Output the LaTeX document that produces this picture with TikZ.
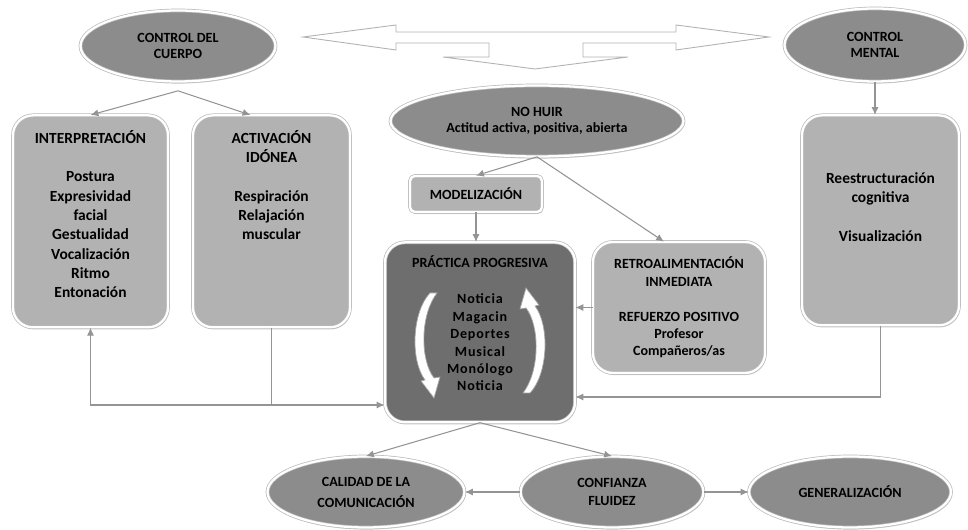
\documentclass[tikz,border=0pt]{standalone}
\usepackage{fontspec}
\setmainfont{Carlito}
\usetikzlibrary{shapes.geometric,shadows,arrows.meta}
\definecolor{gray1}{rgb}{0.55,0.55,0.55}
\definecolor{gray2}{rgb}{0.7,0.7,0.7}
\definecolor{gray3}{rgb}{0.43,0.43,0.43}
\definecolor{line1}{rgb}{0.58,0.58,0.58}
\newcommand{\spaced}[1]{{\addfontfeatures{LetterSpace=6}#1}}
\tikzset{
rim/.style={draw=gray!55, double=white, double distance=1.3pt, line width=0.4pt,
  drop shadow={shadow xshift=0.6pt, shadow yshift=-1.2pt, fill=gray!60}},
oval/.style={rim, ellipse, fill=gray1, inner sep=0pt, align=center,
  font=\fontsize{8}{9.5}\selectfont\bfseries},
panel/.style={rim, rectangle, rounded corners=0.4cm, fill=gray2, align=center,
  inner xsep=0pt, inner ysep=0.15cm, font=\fontsize{8.8}{11}\selectfont\bfseries},
conn/.style={line1, line width=0.6pt, >={Latex[length=4.5pt,width=4pt]}, ->}
}

\begin{document}
\begin{tikzpicture}
\useasboundingbox (0,0) rectangle (19.36,10.6);

\draw[gray!60, line width=0.5pt, fill=white] (6.06,9.86) -- (7.92,10.1) -- (7.92,9.96) -- (13.52,9.96) -- (13.52,10.1) -- (15.38,9.86) -- (13.52,9.6) -- (13.52,9.74) -- (11.66,9.74) -- (11.66,9.46) -- (12.56,9.46) -- (10.7,9.22) -- (8.86,9.46) -- (9.78,9.46) -- (9.78,9.74) -- (7.92,9.74) -- (7.92,9.6) -- cycle;

\node[oval, minimum width=3.9cm, minimum height=1.42cm] (cuerpo) at (3.56,9.68) {CONTROL DEL\\CUERPO};
\node[oval, minimum width=3.62cm, minimum height=1.46cm] (mental) at (17.5,9.7) {CONTROL\\MENTAL};
\node[oval, minimum width=5.86cm, minimum height=1.42cm] (nohuir) at (10.74,8.18) {NO HUIR\\Actitud activa, positiva, abierta};
\node[panel, rounded corners=0.1cm, minimum width=2.64cm, minimum height=0.72cm, font=\fontsize{8}{9.5}\selectfont\bfseries] (modelo) at (9.52,6.72) {MODELIZACIÓN};

\node[panel, anchor=north, minimum width=3.1cm, text height=3.5cm, text depth=0.44cm] (interp) at (1.81,8.3) {INTERPRETACIÓN\\[11pt]Postura\\Expresividad\\facial\\Gestualidad\\Vocalización\\Ritmo\\Entonación};
\node[panel, anchor=north, minimum width=3.14cm, text height=2.34cm, text depth=1.6cm] (activ) at (5.43,8.3) {ACTIVACIÓN\\IDÓNEA\\[11pt]Respiración\\Relajación\\muscular};
\node[panel, anchor=north, minimum width=3.14cm, text height=2.37cm, text depth=1.53cm] (reest) at (17.61,8.3) {Reestructuración\\cognitiva\\[11pt]Visualización};

\node[panel, anchor=north, fill=gray3, minimum width=3.8cm, text height=2.82cm, text depth=0.48cm, font=\fontsize{8}{9.9}\selectfont\bfseries] (practica) at (9.6,5.76) {PRÁCTICA PROGRESIVA\\[11pt]\spaced{Noticia}\\\spaced{Magacin}\\\spaced{Deportes}\\\spaced{Musical}\\\spaced{Monólogo}\\\spaced{Noticia}};
\node[panel, minimum width=3.44cm, minimum height=2.62cm, font=\fontsize{8}{9.9}\selectfont\bfseries] (retro) at (13.58,4.45) {RETROALIMENTACIÓN\\INMEDIATA\\[10pt]REFUERZO POSITIVO\\Profesor\\Compañeros/as};

\foreach \a in {0,180}
\draw[gray!70, line width=0.4pt, fill=white, rotate around={\a:(9.6,3.74)}] (8.74,4.74) -- (8.60,4.74) .. controls (8.24,4.36) and (8.20,3.40) .. (8.50,3.00) -- (8.42,2.98) -- (8.68,2.64) -- (8.80,3.06) -- (8.68,3.04) .. controls (8.40,3.40) and (8.40,4.30) .. (8.74,4.74) -- cycle;

\node[oval, minimum width=3.94cm, minimum height=1.42cm, font=\fontsize{8}{12}\selectfont\bfseries] (calidad) at (7.32,0.76) {CALIDAD DE LA\\COMUNICACIÓN};
\node[oval, minimum width=3.66cm, minimum height=1.42cm, font=\fontsize{8}{10}\selectfont\bfseries] (confianza) at (12.24,0.76) {CONFIANZA\\FLUIDEZ};
\node[oval, minimum width=4.04cm, minimum height=1.42cm] (general) at (17.0,0.76) {GENERALIZACIÓN};

\coordinate (lo) at (0,2.5);
\coordinate (lo2) at (0,2.66);
\draw[conn] ([yshift=-0.18cm]cuerpo.south) -- (interp.north);
\draw[conn] ([yshift=-0.18cm]cuerpo.south) -- ([xshift=-0.42cm]activ.north);
\draw[conn] (mental.south) -- (mental.south |- reest.north);
\draw[conn] (nohuir.south) -- (modelo.north);
\draw[conn] (nohuir.south) -- ([xshift=-0.3cm]retro.north);
\draw[conn] (modelo.south) -- (modelo.south |- practica.north);
\draw[conn] (retro.west) -- (retro.west -| practica.east);
\draw[conn, <->] (interp.south) |- (practica.west |- lo);
\draw[line1, line width=0.6pt] (activ.south) -- (activ.south |- lo);
\draw[conn] (reest.south) |- (practica.east |- lo2);
\draw[conn] (practica.south) -- (calidad.north);
\draw[conn] (practica.south) -- (confianza.north);
\draw[conn] (confianza.west) -- (calidad.east);
\draw[conn] (confianza.east) -- (general.west);
\end{tikzpicture}
\end{document}
